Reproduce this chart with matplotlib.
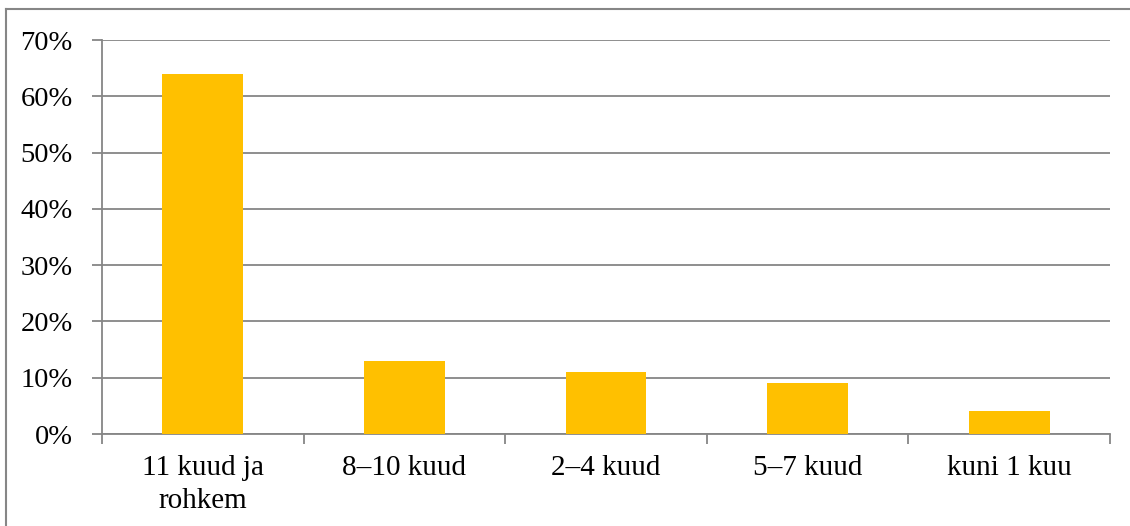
import numpy as np
import matplotlib.pyplot as plt
from matplotlib.lines import Line2D
from matplotlib.ticker import FixedLocator, PercentFormatter

# Data
categories = ["11 kuud ja\nrohkem", "8–10 kuud", "2–4 kuud", "5–7 kuud", "kuni 1 kuu"]
shares = [64, 13, 11, 9, 4]

BAR_COLOR = "#FFC000"
GRID_COLOR = "#868686"

plt.rcParams['font.family'] = ['Liberation Serif', 'DejaVu Serif']

fig = plt.figure(figsize=(11.3, 5.26), dpi=100)
ax = fig.add_axes([102 / 1130, 1 - 434 / 526, 1008 / 1130, 394 / 526])

x = np.arange(len(categories))
ax.bar(x, shares, width=0.4, color=BAR_COLOR, zorder=3)

ax.set_xlim(-0.5, len(categories) - 0.5)
ax.set_ylim(0, 70)
ax.set_yticks(np.arange(0, 71, 10))
ax.yaxis.set_major_formatter(PercentFormatter(decimals=0))
ax.grid(axis='y', color=GRID_COLOR, linewidth=1.3, zorder=0)

# category boundaries as major ticks, labels on minor ticks
ax.xaxis.set_major_locator(FixedLocator(np.arange(-0.5, len(categories), 1.0)))
ax.xaxis.set_minor_locator(FixedLocator(x))
ax.set_xticklabels([], minor=False)
ax.set_xticklabels(categories, minor=True, linespacing=1.35)
ax.tick_params(axis='x', which='major', length=7, width=1.3, color=GRID_COLOR)
ax.tick_params(axis='x', which='minor', length=0, pad=15, labelsize=21)
ax.tick_params(axis='y', length=7, width=1.3, color=GRID_COLOR, pad=14, labelsize=20.5)

for side in ['top', 'right']:
    ax.spines[side].set_visible(False)
for side in ['left', 'bottom']:
    ax.spines[side].set_color(GRID_COLOR)
    ax.spines[side].set_linewidth(1.3)

# outer chart border (left and top edges visible)
bx = 6 / 1130
by = 1 - 9 / 526
fig.add_artist(Line2D([bx, bx], [0, by], color=GRID_COLOR, linewidth=1.5, transform=fig.transFigure))
fig.add_artist(Line2D([bx, 1], [by, by], color=GRID_COLOR, linewidth=1.5, transform=fig.transFigure))

fig.savefig("out.png", dpi=100)
